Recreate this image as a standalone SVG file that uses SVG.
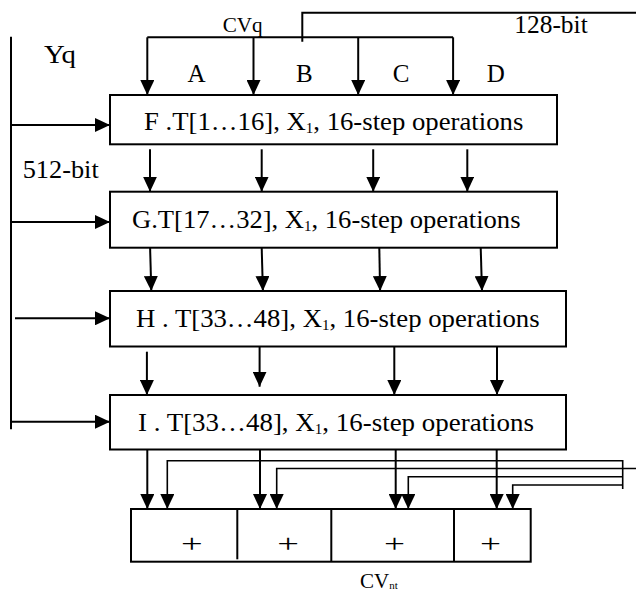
<svg xmlns="http://www.w3.org/2000/svg" width="636" height="593" viewBox="0 0 636 593">
<style>
  .bg { fill: #ffffff; }
  .box { fill: #ffffff; stroke: #000000; stroke-width: 2; }
  .ln { fill: none; stroke: #000000; stroke-width: 2; }
  .fb { fill: none; stroke: #000000; stroke-width: 1.6; }
  .arr { fill: none; stroke: #000000; stroke-width: 2; marker-end: url(#ah); }
  .arrfb { fill: none; stroke: #000000; stroke-width: 1.6; marker-end: url(#ah); }
  text { font-family: "Liberation Serif", "Times New Roman", serif; fill: #000000; }
  .t25 { font-size: 25px; }
  .t21 { font-size: 21px; }
  .sub { font-size: 14px; }
</style>
<defs>
  <marker id="ah" markerUnits="userSpaceOnUse" markerWidth="15" markerHeight="14" refX="15" refY="7" orient="auto">
    <path d="M0,0 L15,7 L0,14 Z" fill="#000000"/>
  </marker>
</defs>
<rect class="bg" x="0" y="0" width="636" height="593"/>

<g id="connectors">
  <path class="ln" d="M636,12.7 H302.3 V41.7"/>
  <path class="ln" d="M147.3,37.3 H453.1"/>
  <path class="arr" d="M147.3,37.3 V95"/>
  <path class="arr" d="M253.5,37.3 V95"/>
  <path class="arr" d="M358.2,37.3 V95"/>
  <path class="arr" d="M453.1,37.3 V95"/>
  <path class="arr" d="M150,149.3 V191.7"/>
  <path class="arr" d="M261.7,149.3 V191.7"/>
  <path class="arr" d="M373.2,149.3 V191.7"/>
  <path class="arr" d="M467.3,149.3 V191.7"/>
  <path class="arr" d="M150.1,247.7 L151.3,291"/>
  <path class="arr" d="M261.7,247.7 L262.9,291"/>
  <path class="arr" d="M379.3,247.7 L380.1,291"/>
  <path class="arr" d="M480.7,247.7 L482,291"/>
  <path class="arr" d="M146.9,351.7 V395"/>
  <path class="arr" d="M259.6,346.5 V386.7"/>
  <path class="arr" d="M394.3,346.5 V395"/>
  <path class="arr" d="M497,346.5 V395"/>
  <path class="ln" d="M11,36.7 V429.3"/>
  <path class="arr" d="M11,125 H110"/>
  <path class="arr" d="M11,222 H110"/>
  <path class="arr" d="M15,318.3 H110"/>
  <path class="arr" d="M11,421.7 H110"/>
  <path class="arr" d="M147.3,449.5 V509"/>
  <path class="arr" d="M260,449.5 V509"/>
  <path class="arr" d="M395.7,449.5 V509"/>
  <path class="arr" d="M496.7,449.5 V509"/>
  <path class="fb" d="M622.7,460 V489"/>
  <path class="arrfb" d="M622.7,460.7 H167.3 V509"/>
  <path class="arrfb" d="M636,468.5 H276.7 V509"/>
  <path class="arrfb" d="M622.7,476.7 H408.3 V509"/>
  <path class="arrfb" d="M622.7,485 H512.7 V509"/>
</g>

<g id="labels">
  <text class="t21" x="222.7" y="31.7" textLength="40" lengthAdjust="spacingAndGlyphs">CVq</text>
  <text class="t25" x="514.3" y="32.7" textLength="73.4" lengthAdjust="spacingAndGlyphs">128-bit</text>
  <text class="t25" x="44" y="63.3" textLength="32" lengthAdjust="spacingAndGlyphs">Yq</text>
  <text class="t25" x="22.7" y="178" textLength="76" lengthAdjust="spacingAndGlyphs">512-bit</text>
  <text class="t25" x="187.4" y="81.7">A</text>
  <text class="t25" x="296.1" y="81.7">B</text>
  <text class="t25" x="392.7" y="81.7">C</text>
  <text class="t25" x="486.8" y="81.7">D</text>
</g>

<g id="nodeF">
  <rect class="box" x="110" y="95" width="447" height="49.3"/>
  <text class="t25" x="144" y="129.5" textLength="379.3" lengthAdjust="spacingAndGlyphs">F .T[1…16], X<tspan class="sub" dy="3">1</tspan><tspan dy="-3">, 16-step operations</tspan></text>
</g>

<g id="nodeG">
  <rect class="box" x="110" y="191.7" width="447" height="56"/>
  <text class="t25" x="132" y="228.3" textLength="388.5" lengthAdjust="spacingAndGlyphs">G.T[17…32], X<tspan class="sub" dy="3">1</tspan><tspan dy="-3">, 16-step operations</tspan></text>
</g>

<g id="nodeH">
  <rect class="box" x="110" y="291" width="456" height="55.5"/>
  <text class="t25" x="136" y="326.7" textLength="403.6" lengthAdjust="spacingAndGlyphs">H . T[33…48], X<tspan class="sub" dy="3">1</tspan><tspan dy="-3">, 16-step operations</tspan></text>
</g>

<g id="nodeI">
  <rect class="box" x="110" y="395" width="456" height="54.5"/>
  <text class="t25" x="138" y="430.7" textLength="396" lengthAdjust="spacingAndGlyphs">I . T[33…48], X<tspan class="sub" dy="3">1</tspan><tspan dy="-3">, 16-step operations</tspan></text>
</g>

<g id="adders">
  <rect class="box" x="131" y="509" width="399.7" height="52.7"/>
  <path class="ln" d="M237.3,509 V559.3"/>
  <path class="ln" d="M331.3,509 V561.7"/>
  <path class="ln" d="M454,509 V561.7"/>
  <text class="t25" x="181" y="551.7" textLength="21.7" lengthAdjust="spacingAndGlyphs">+</text>
  <text class="t25" x="277.3" y="551.7" textLength="21.7" lengthAdjust="spacingAndGlyphs">+</text>
  <text class="t25" x="384" y="551.7" textLength="21" lengthAdjust="spacingAndGlyphs">+</text>
  <text class="t25" x="480" y="551.7" textLength="21" lengthAdjust="spacingAndGlyphs">+</text>
  <text class="t21" x="360" y="587.5">CV<tspan font-size="11" dy="1">nt</tspan></text>
</g>
</svg>
